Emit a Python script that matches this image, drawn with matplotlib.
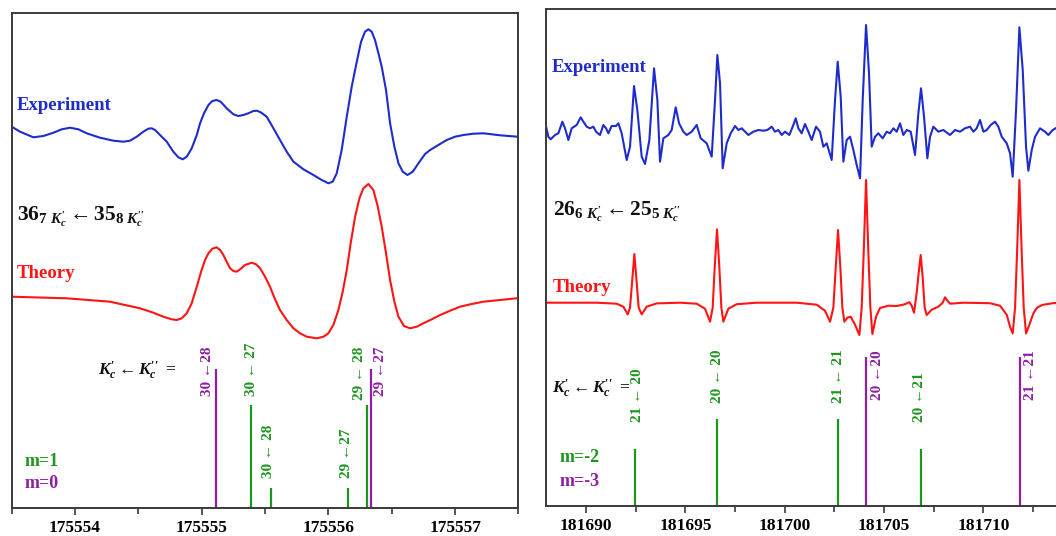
import matplotlib
matplotlib.use("Agg")
import matplotlib.pyplot as plt
from matplotlib.ticker import MultipleLocator, FormatStrFormatter

plt.rcParams['font.family'] = ['Liberation Serif', 'DejaVu Serif']
plt.rcParams['font.weight'] = 'bold'
plt.rcParams['mathtext.fontset'] = 'custom'
plt.rcParams['mathtext.rm'] = 'Liberation Serif:bold'
plt.rcParams['mathtext.it'] = 'Liberation Serif:italic:bold'
plt.rcParams['mathtext.bf'] = 'Liberation Serif:bold'

# ---------------- data: left panel (36_7 <- 35_8) ----------------
L_exp_freq = [175553.500, 175553.566, 175553.671, 175553.750, 175553.829, 175553.895,
              175553.961, 175554.026, 175554.092, 175554.197, 175554.303, 175554.382,
              175554.434, 175554.487, 175554.539, 175554.579, 175554.605, 175554.632,
              175554.671, 175554.724, 175554.776, 175554.816, 175554.850, 175554.882,
              175554.921, 175554.961, 175554.987, 175555.018, 175555.053, 175555.084,
              175555.118, 175555.150, 175555.197, 175555.250, 175555.289, 175555.329,
              175555.368, 175555.408, 175555.434, 175555.466, 175555.513, 175555.566,
              175555.618, 175555.671, 175555.724, 175555.803, 175555.882, 175555.947,
              175556.000, 175556.034, 175556.066, 175556.105, 175556.145, 175556.184,
              175556.224, 175556.258, 175556.289, 175556.316, 175556.342, 175556.368,
              175556.395, 175556.421, 175556.455, 175556.487, 175556.521, 175556.553,
              175556.587, 175556.624, 175556.666, 175556.711, 175556.763, 175556.803,
              175556.868, 175556.934, 175557.000, 175557.066, 175557.145, 175557.224,
              175557.355, 175557.492]
L_exp_int = [8.3, 3.3, -2.3, -1, 2.3, 5.7, 7.3, 5.7, 1.7, -2.7, -5.7, -6.7,
             -5.7, -1.7, 3.3, 6.3, 6.7, 5, 0, -6.7, -16.7, -22.3, -24.3, -21.7,
             -13.3, 0, 11.7, 21.7, 30, 34, 35, 33.3, 26.7, 20.7, 19, 20,
             21.7, 24, 24.3, 22.7, 18.3, 6.7, -5, -16.7, -26.7, -34.3, -40, -45,
             -48.3, -46.7, -38.3, -15, 18.3, 48.3, 73.3, 93.3, 103.3, 105.7, 103.3, 95,
             81.7, 68.3, 45, 11.7, -11.7, -28.3, -36.7, -40, -36.7, -28.3, -19, -15,
             -10, -5, -1.7, 0, 1.3, 1.7, -0.3, -1.7]

L_th_freq = [175553.500, 175553.934, 175554.276, 175554.513, 175554.618, 175554.697,
             175554.763, 175554.803, 175554.842, 175554.882, 175554.921, 175554.961,
             175554.995, 175555.026, 175555.053, 175555.084, 175555.118, 175555.145,
             175555.171, 175555.197, 175555.224, 175555.250, 175555.276, 175555.303,
             175555.342, 175555.395, 175555.429, 175555.461, 175555.500, 175555.539,
             175555.579, 175555.618, 175555.671, 175555.724, 175555.776, 175555.829,
             175555.908, 175555.961, 175556.000, 175556.039, 175556.079, 175556.113,
             175556.145, 175556.176, 175556.211, 175556.245, 175556.276, 175556.316,
             175556.355, 175556.387, 175556.421, 175556.455, 175556.487, 175556.521,
             175556.553, 175556.597, 175556.645, 175556.697, 175556.750, 175556.816,
             175556.882, 175556.961, 175557.039, 175557.132, 175557.224, 175557.355,
             175557.487]
L_th_int = [0.3, -1.3, -4.7, -11.3, -15.7, -19.7, -22.3, -23, -21.3, -16.3, -6.3, 10.3,
            25.3, 37, 43.7, 48.3, 49.7, 47, 42, 35.3, 28.7, 26, 25.3, 27.7,
            32, 34.3, 32.7, 28.7, 20.3, 10.3, -2.3, -13, -23, -31.3, -36.3, -39.7,
            -41.3, -39.7, -36.3, -28, -13, 5.3, 27, 53.7, 80.3, 98.7, 108.7, 113,
            107, 92, 70.3, 43.7, 17, -4.7, -19.7, -29, -31.3, -29.7, -26.3, -22.3,
            -18, -13.7, -9.7, -7, -4.7, -3, -1.3]

L_stick_freq = [175555.111, 175555.389, 175555.545, 175556.158, 175556.308, 175556.337]
L_stick_int = [139, 103, 19.7, 19.7, 103, 139]
L_stick_m = [0, 1, 1, 1, 1, 0]
L_stick_lab = ["30 \u219028", "30 \u2190 27", "30 \u2190 28", "29 \u219027", "29 \u2190 28", "29 \u219027"]
L_lab_x = [175555.044, 175555.395, 175555.526, 175556.145, 175556.244, 175556.408]
L_lab_y = [112, 112, 30, 30, 108, 112]
L_ticks = [175554, 175555, 175556, 175557]

# ---------------- data: right panel (26_6 <- 25_5) ----------------
R_exp_freq = [181687.97, 181688.104, 181688.221, 181688.439, 181688.607, 181688.809,
              181688.943, 181689.111, 181689.278, 181689.530, 181689.732, 181689.866,
              181690.034, 181690.201, 181690.369, 181690.503, 181690.705, 181690.873,
              181691.007, 181691.124, 181691.292, 181691.510, 181691.628, 181691.795,
              181692.047, 181692.215, 181692.416, 181692.584, 181692.802, 181692.970,
              181693.188, 181693.423, 181693.591, 181693.725, 181693.893, 181694.145,
              181694.312, 181694.514, 181694.682, 181694.900, 181695.068, 181695.319,
              181695.571, 181695.772, 181696.074, 181696.326, 181696.494, 181696.611,
              181696.746, 181696.880, 181697.081, 181697.283, 181697.501, 181697.668,
              181697.836, 181698.004, 181698.172, 181698.424, 181698.675, 181698.927,
              181699.128, 181699.347, 181699.514, 181699.682, 181699.850, 181700.018,
              181700.236, 181700.437, 181700.555, 181700.689, 181700.857, 181701.024,
              181701.192, 181701.360, 181701.578, 181701.780, 181701.947, 181702.115,
              181702.367, 181702.535, 181702.669, 181702.820, 181702.954, 181703.122,
              181703.290, 181703.458, 181703.625, 181703.793, 181703.928, 181704.096,
              181704.246, 181704.380, 181704.548, 181704.716, 181704.934, 181705.136,
              181705.303, 181705.471, 181705.639, 181705.807, 181705.975, 181706.143,
              181706.344, 181706.562, 181706.730, 181706.864, 181707.015, 181707.183,
              181707.317, 181707.485, 181707.736, 181707.988, 181708.324, 181708.575,
              181708.827, 181709.079, 181709.331, 181709.498, 181709.666, 181709.834,
              181710.002, 181710.170, 181710.371, 181710.589, 181710.757, 181710.925,
              181711.177, 181711.345, 181711.479, 181711.647, 181711.815, 181711.983,
              181712.150, 181712.268, 181712.436, 181712.604, 181712.855, 181713.107,
              181713.275, 181713.493, 181713.75, 181714.0]
R_exp_int = [5, -6.7, -9.3, -5, -3.3, 8.3, 1.7, -10, 1.7, 5, 12.7, 8.3,
             3.3, 1.7, 3.3, -1.7, -5, 5, 1.7, -3.3, 4, 4, 6.7, -3.3,
             -30, -16.7, 44, 20, -26.7, -34, -10, 61.7, 30, -31.7, -8.3, -5,
             0, 22.7, 6.7, -1.7, -5, -1.7, 5, -8.3, -13.3, -26.7, 30, 75,
             46.7, -38.3, -13.3, -3.3, 4, 0, 1.7, -1.7, -5, -1.7, 0, -0.7,
             0, 3.3, -1.7, 0, -5, -1.7, -5, 5, 11.7, 1.7, -3.3, 6,
             -1.7, -10, 3.3, -1.7, -16.7, -13.3, -30, 30, 68.3, 33.3, -31.7, -10,
             -6.7, -20, -35, -48.3, 30, 105, 56.7, -16.7, -6.7, -3.3, -8.3, -1.7,
             -3.3, 1.7, -1.7, 6.7, -5, 0, -1.7, -25, 16.7, 41.7, 13.3, -28.3,
             -6.7, 3.3, -1.7, 0, -5, 0, -1.7, 1.7, 3.3, -1.7, 1.7, 10,
             -1.7, 0, 5, 8.3, 3.3, -6.7, -13.3, -23.3, -46.7, 20, 102.7, 60,
             -16.7, -40.7, -20, -6.7, 1.7, -1.7, -5, 0, 3, 0]

R_th_freq = [181687.97, 181690.537, 181691.544, 181691.879, 181692.098, 181692.215,
             181692.316, 181692.433, 181692.551, 181692.651, 181692.802, 181693.054,
             181693.557, 181694.732, 181695.571, 181695.991, 181696.242, 181696.376,
             181696.477, 181696.594, 181696.712, 181696.813, 181696.914, 181697.165,
             181697.585, 181698.591, 181700.605, 181701.612, 181702.031, 181702.283,
             181702.451, 181702.569, 181702.686, 181702.803, 181702.904, 181703.005,
             181703.156, 181703.323, 181703.541, 181703.760, 181703.877, 181703.978,
             181704.096, 181704.213, 181704.314, 181704.415, 181704.599, 181704.800,
             181705.220, 181705.639, 181706.059, 181706.277, 181706.394, 181706.512,
             181706.646, 181706.746, 181706.847, 181706.948, 181707.048, 181707.149,
             181707.401, 181707.736, 181707.955, 181708.073, 181708.190, 181708.324,
             181708.995, 181710.338, 181710.841, 181711.177, 181711.345, 181711.479,
             181711.597, 181711.698, 181711.815, 181711.932, 181712.033, 181712.150,
             181712.318, 181712.520, 181712.704, 181712.956, 181713.493, 181714.0]
R_th_int = [0, 0, -1, -4, -11.6, -5, 20, 48.7, 20, -5, -11.6, -4,
            -0.7, 0, -1, -6, -19, -5, 35, 73.4, 35, -5, -19, -6,
            -1.5, 0, 0, -2, -8, -19, -5, 35, 72.7, 35, -5, -19,
            -15, -14, -22, -32.3, -5, 50, 122.7, 50, -5, -31.3, -14, -5.3,
            -3, -3.3, -1.5, 0.5, -3, -10, 10, 30, 47.7, 25, -5, -12.3,
            -7, -4, 0, 5.4, 2, -1, 0, -0.5, -3, -12, -24, -30.7,
            -5, 50, 122.7, 50, -5, -30.7, -22, -10.6, -5, -2.3, -0.5, 0]

R_stick_freq = [181692.47, 181696.59, 181702.69, 181704.10, 181706.85, 181711.85]
R_stick_int = [57, 87, 87, 148.7, 57, 148.7]
R_stick_m = [-2, -2, -2, -3, -2, -3]
R_stick_lab = ["21 \u2190 20", "20 \u2190 20", "21 \u2190 21", "20 \u219020", "20 \u219021", "21 \u219021"]
R_lab_x = [181692.58, 181696.61, 181702.70, 181704.68, 181706.81, 181712.35]
R_lab_y = [84, 103, 103, 106, 84, 106]
R_ticks = [181690, 181695, 181700, 181705, 181710]

BLUE = '#1f2ccc'
RED = '#ff1414'
GREEN = '#1e961e'
PURPLE = '#8e1fa3'
SPINE = '#3a3a3a'

TITLE_L = r"$\mathbf{36}_{\mathbf{7}\ K^{\prime}_{c}}\leftarrow\mathbf{35}_{\mathbf{8}\ K^{\prime\prime}_{c}}$"
TITLE_R = r"$\mathbf{26}_{\mathbf{6}\ K^{\prime}_{c}}\leftarrow\mathbf{25}_{\mathbf{5}\ K^{\prime\prime}_{c}}$"
KLAB = r"$K^{\prime}_{c}\leftarrow K^{\prime\prime}_{c}\ =$"

fig = plt.figure(figsize=(10.56, 5.36), dpi=100)


def style_axes(ax, major, minor, right_spine=True):
    for s in ax.spines.values():
        s.set_color(SPINE)
        s.set_linewidth(1.4)
    if not right_spine:
        ax.spines['right'].set_visible(False)
    ax.set_yticks([])
    ax.xaxis.set_major_locator(MultipleLocator(major))
    ax.xaxis.set_minor_locator(MultipleLocator(minor))
    ax.xaxis.set_major_formatter(FormatStrFormatter('%d'))
    ax.tick_params(axis='x', which='major', direction='out', length=5, width=1.2,
                   color=SPINE, pad=3.5, labelsize=12.5)
    ax.tick_params(axis='x', which='minor', direction='out', length=4, width=1.2, color=SPINE)
    for lab in ax.get_xticklabels():
        lab.set_fontweight('bold')


def draw_panel(ax, exp_f, exp_i, th_f, th_i, st_f, st_i, st_m, labs, lab_x, lab_y,
               exp_base, th_base, m_colors):
    ax.plot(exp_f, [v + exp_base for v in exp_i], color=BLUE, lw=1.5, solid_joinstyle='round')
    ax.plot(th_f, [v + th_base for v in th_i], color=RED, lw=1.5, solid_joinstyle='round')
    for f, h, m, lab, lx, ly in zip(st_f, st_i, st_m, labs, lab_x, lab_y):
        c = m_colors[m]
        ax.vlines(f, 0, h, color=c, lw=1.6)
        ax.text(lx, ly, lab, rotation=90, ha='center', va='bottom', color=c,
                fontsize=11, fontweight='bold')


# ---------------- left panel ----------------
axL = fig.add_axes([11.7 / 1056, 1 - 508 / 536, 506.7 / 1056, 495 / 536])
axL.set_xlim(175553.5, 175557.5)
axL.set_ylim(0, 495)
draw_panel(axL, L_exp_freq, L_exp_int, L_th_freq, L_th_int, L_stick_freq, L_stick_int,
           L_stick_m, L_stick_lab, L_lab_x, L_lab_y, 373, 211, {1: GREEN, 0: PURPLE})
axL.text(175553.54, 403, "Experiment", color=BLUE, fontsize=13.5, fontweight='bold',
         ha='left', va='center')
axL.text(175553.54, 291, TITLE_L, color='#111111', fontsize=15.5, ha='left', va='center')
axL.text(175553.54, 235, "Theory", color=RED, fontsize=13.5, fontweight='bold',
         ha='left', va='center')
axL.text(175554.803, 138, KLAB, color='#111111', fontsize=12.5, ha='right', va='center')
axL.text(175553.605, 47, "m=1", color=GREEN, fontsize=13, fontweight='bold', ha='left', va='center')
axL.text(175553.605, 25, "m=0", color=PURPLE, fontsize=13, fontweight='bold', ha='left', va='center')
style_axes(axL, 1, 0.5)
axL.set_xticks(L_ticks)

# ---------------- right panel ----------------
xr0, xr1 = 181687.97, 181715.0
axR = fig.add_axes([545.7 / 1056, 1 - 506 / 536, (xr1 - xr0) * 19.865 / 1056, 497 / 536])
axR.set_xlim(xr0, xr1)
axR.set_ylim(0, 497)
draw_panel(axR, R_exp_freq, R_exp_int, R_th_freq, R_th_int, R_stick_freq, R_stick_int,
           R_stick_m, R_stick_lab, R_lab_x, R_lab_y, 376, 203.3, {-2: GREEN, -3: PURPLE})
axR.text(181688.27, 438, "Experiment", color=BLUE, fontsize=13.5, fontweight='bold',
         ha='left', va='center')
axR.text(181688.34, 294, TITLE_R, color='#111111', fontsize=15.5, ha='left', va='center')
axR.text(181688.34, 218, "Theory", color=RED, fontsize=13.5, fontweight='bold',
         ha='left', va='center')
axR.text(181692.21, 118, KLAB, color='#111111', fontsize=12.5, ha='right', va='center')
axR.text(181688.69, 48, "m=-2", color=GREEN, fontsize=13, fontweight='bold', ha='left', va='center')
axR.text(181688.69, 24, "m=-3", color=PURPLE, fontsize=13, fontweight='bold', ha='left', va='center')
style_axes(axR, 5, 2.5, right_spine=False)
axR.set_xticks(R_ticks)

fig.savefig("out.png", dpi=100)
